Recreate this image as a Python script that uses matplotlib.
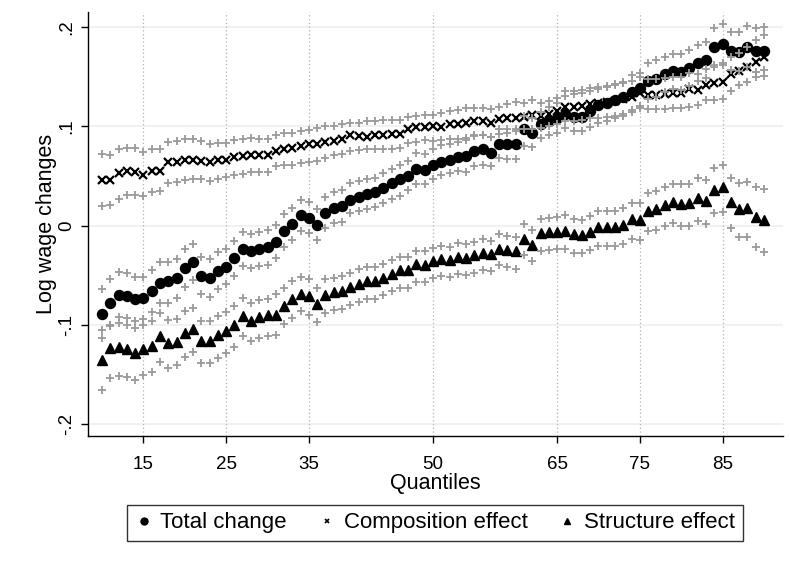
import matplotlib
matplotlib.use("Agg")
import matplotlib.pyplot as plt
from matplotlib.lines import Line2D

plt.rcParams['font.family'] = ['Liberation Sans', 'DejaVu Sans']

quantiles = list(range(10, 91))

total = [
    -0.089, -0.078, -0.070, -0.071, -0.074, -0.073, -0.066, -0.058, -0.056, -0.053,
    -0.043, -0.037, -0.051, -0.053, -0.046, -0.042, -0.033, -0.023, -0.026, -0.023,
    -0.021, -0.016, -0.005, 0.002, 0.011, 0.008, 0.001, 0.013,
    0.018, 0.020, 0.026, 0.029, 0.032, 0.034, 0.038, 0.043, 0.047, 0.050,
    0.057, 0.056, 0.061, 0.064, 0.066, 0.069, 0.070, 0.075, 0.077, 0.073,
    0.082, 0.082, 0.082, 0.097, 0.093, 0.102, 0.105, 0.108,
    0.113, 0.110, 0.110, 0.116, 0.122, 0.124, 0.127, 0.130, 0.135, 0.139,
    0.146, 0.148, 0.153, 0.156, 0.155, 0.159, 0.164, 0.167, 0.180, 0.183,
    0.176, 0.175, 0.180, 0.176, 0.176,
]
total_hi = [
    -0.064, -0.054, -0.047, -0.048, -0.052, -0.052, -0.045, -0.037, -0.037, -0.034,
    -0.023, -0.018, -0.032, -0.034, -0.027, -0.023, -0.015, -0.006, -0.008, -0.006,
    -0.004, 0.001, 0.012, 0.018, 0.026, 0.024, 0.017, 0.029,
    0.034, 0.036, 0.043, 0.045, 0.047, 0.048, 0.053, 0.057, 0.061, 0.065,
    0.073, 0.072, 0.077, 0.081, 0.082, 0.084, 0.086, 0.091, 0.091, 0.089,
    0.097, 0.097, 0.097, 0.111, 0.108, 0.115, 0.120, 0.124,
    0.131, 0.133, 0.134, 0.136, 0.138, 0.140, 0.143, 0.145, 0.152, 0.154,
    0.164, 0.167, 0.170, 0.173, 0.173, 0.177, 0.182, 0.185, 0.199, 0.203,
    0.195, 0.195, 0.201, 0.199, 0.200,
]
total_lo = [
    -0.105, -0.100, -0.092, -0.093, -0.096, -0.094, -0.087, -0.078, -0.078, -0.073,
    -0.062, -0.055, -0.069, -0.072, -0.064, -0.059, -0.051, -0.041, -0.043, -0.041,
    -0.040, -0.033, -0.021, -0.014, -0.005, -0.007, -0.014, -0.002,
    0.003, 0.004, 0.013, 0.015, 0.017, 0.019, 0.023, 0.027, 0.030, 0.036,
    0.042, 0.042, 0.047, 0.051, 0.053, 0.055, 0.054, 0.060, 0.061, 0.060,
    0.068, 0.067, 0.067, 0.080, 0.079, 0.088, 0.091, 0.093,
    0.098, 0.095, 0.095, 0.099, 0.103, 0.105, 0.108, 0.111, 0.117, 0.121,
    0.128, 0.130, 0.135, 0.138, 0.137, 0.141, 0.146, 0.149, 0.162, 0.164,
    0.157, 0.156, 0.160, 0.155, 0.157,
]

composition = [
    0.046, 0.046, 0.053, 0.055, 0.054, 0.051, 0.055, 0.055, 0.064, 0.064,
    0.066, 0.066, 0.065, 0.064, 0.066, 0.066, 0.069, 0.070, 0.071, 0.071,
    0.071, 0.075, 0.077, 0.078, 0.080, 0.082, 0.082, 0.084,
    0.085, 0.087, 0.091, 0.090, 0.089, 0.091, 0.091, 0.092, 0.092, 0.097,
    0.099, 0.099, 0.100, 0.099, 0.102, 0.102, 0.103, 0.105, 0.105, 0.103,
    0.107, 0.108, 0.109, 0.110, 0.112, 0.111, 0.113, 0.116,
    0.120, 0.120, 0.121, 0.123, 0.124, 0.125, 0.126, 0.128, 0.130, 0.134,
    0.132, 0.132, 0.133, 0.134, 0.134, 0.138, 0.137, 0.142, 0.144, 0.145,
    0.153, 0.156, 0.160, 0.165, 0.170,
]
composition_hi = [
    0.072, 0.071, 0.077, 0.078, 0.078, 0.074, 0.077, 0.077, 0.084, 0.085,
    0.087, 0.087, 0.085, 0.082, 0.083, 0.083, 0.086, 0.087, 0.088, 0.087,
    0.087, 0.091, 0.093, 0.093, 0.095, 0.096, 0.098, 0.100,
    0.100, 0.102, 0.103, 0.103, 0.105, 0.105, 0.106, 0.106, 0.106, 0.110,
    0.111, 0.112, 0.112, 0.114, 0.116, 0.117, 0.119, 0.119, 0.119, 0.118,
    0.120, 0.123, 0.125, 0.124, 0.127, 0.124, 0.126, 0.129,
    0.136, 0.136, 0.137, 0.139, 0.140, 0.141, 0.142, 0.144, 0.146, 0.150,
    0.148, 0.148, 0.149, 0.150, 0.150, 0.154, 0.153, 0.158, 0.160, 0.162,
    0.170, 0.174, 0.180, 0.187, 0.192,
]
composition_lo = [
    0.020, 0.021, 0.027, 0.031, 0.031, 0.030, 0.034, 0.035, 0.043, 0.044,
    0.046, 0.047, 0.047, 0.045, 0.047, 0.049, 0.051, 0.052, 0.054, 0.054,
    0.054, 0.060, 0.061, 0.061, 0.063, 0.064, 0.065, 0.068,
    0.071, 0.072, 0.075, 0.076, 0.077, 0.077, 0.077, 0.077, 0.078, 0.083,
    0.084, 0.086, 0.085, 0.086, 0.087, 0.087, 0.088, 0.090, 0.091, 0.089,
    0.092, 0.093, 0.095, 0.097, 0.097, 0.098, 0.100, 0.102,
    0.105, 0.105, 0.106, 0.108, 0.109, 0.110, 0.111, 0.113, 0.115, 0.119,
    0.118, 0.118, 0.118, 0.119, 0.119, 0.120, 0.122, 0.127, 0.127, 0.128,
    0.136, 0.142, 0.145, 0.150, 0.151,
]

structure = [
    -0.135, -0.123, -0.122, -0.124, -0.128, -0.124, -0.121, -0.111, -0.118, -0.117,
    -0.108, -0.104, -0.116, -0.116, -0.110, -0.106, -0.100, -0.091, -0.096, -0.092,
    -0.090, -0.090, -0.081, -0.074, -0.069, -0.071, -0.079, -0.070,
    -0.067, -0.066, -0.062, -0.059, -0.056, -0.056, -0.053, -0.049, -0.045, -0.045,
    -0.039, -0.040, -0.036, -0.034, -0.035, -0.032, -0.033, -0.030, -0.028, -0.029,
    -0.023, -0.024, -0.026, -0.013, -0.019, -0.007, -0.006, -0.006,
    -0.005, -0.008, -0.009, -0.006, -0.001, -0.001, -0.001, 0.001, 0.007, 0.006,
    0.015, 0.017, 0.021, 0.024, 0.022, 0.023, 0.028, 0.025, 0.036, 0.039,
    0.024, 0.017, 0.018, 0.009, 0.006,
]
structure_hi = [
    -0.113, -0.101, -0.098, -0.100, -0.103, -0.100, -0.096, -0.088, -0.095, -0.094,
    -0.086, -0.083, -0.096, -0.096, -0.091, -0.087, -0.081, -0.073, -0.078, -0.075,
    -0.074, -0.069, -0.063, -0.056, -0.052, -0.054, -0.063, -0.054,
    -0.053, -0.051, -0.048, -0.044, -0.042, -0.042, -0.039, -0.035, -0.032, -0.032,
    -0.025, -0.025, -0.022, -0.020, -0.021, -0.017, -0.018, -0.016, -0.013, -0.015,
    -0.008, -0.010, -0.011, 0.002, -0.004, 0.007, 0.008, 0.009,
    0.011, 0.007, 0.006, 0.010, 0.015, 0.015, 0.015, 0.018, 0.023, 0.023,
    0.033, 0.035, 0.039, 0.042, 0.042, 0.042, 0.048, 0.046, 0.058, 0.061,
    0.048, 0.043, 0.044, 0.039, 0.037,
]
structure_lo = [
    -0.166, -0.153, -0.151, -0.152, -0.155, -0.150, -0.147, -0.137, -0.143, -0.140,
    -0.132, -0.127, -0.138, -0.138, -0.133, -0.128, -0.122, -0.111, -0.116, -0.113,
    -0.111, -0.110, -0.099, -0.093, -0.086, -0.090, -0.097, -0.088,
    -0.085, -0.084, -0.080, -0.077, -0.074, -0.074, -0.070, -0.066, -0.063, -0.063,
    -0.057, -0.057, -0.053, -0.051, -0.052, -0.049, -0.050, -0.048, -0.045, -0.046,
    -0.040, -0.042, -0.044, -0.030, -0.036, -0.025, -0.024, -0.023,
    -0.023, -0.028, -0.028, -0.024, -0.020, -0.020, -0.020, -0.018, -0.013, -0.014,
    -0.005, -0.004, 0.000, 0.003, 0.000, 0.000, 0.005, 0.002, 0.013, 0.014,
    -0.002, -0.011, -0.011, -0.021, -0.027,
]

x_ticks = [15, 25, 35, 50, 65, 75, 85]
y_ticks = [-0.2, -0.1, 0.0, 0.1, 0.2]
y_tick_labels = ['-.2', '-.1', '0', '.1', '.2']

series = [
    ('Total change', total, total_lo, total_hi, dict(marker='o', ms=7.2, mec='black', mfc='black')),
    ('Composition effect', composition, composition_lo, composition_hi, dict(marker='x', ms=5.2, mew=1.6, color='black')),
    ('Structure effect', structure, structure_lo, structure_hi, dict(marker='^', ms=7.2, mec='black', mfc='black')),
]
ci_style = dict(marker='+', ms=6, mew=1.3, color='#9a9a9a', linestyle='none')

fig = plt.figure(figsize=(7.9, 5.62), dpi=100)
ax = fig.add_axes([0.1114, 0.224, 0.8797, 0.755])

# light horizontal grid at the y ticks, dotted verticals at the x ticks
for y in y_ticks:
    ax.axhline(y, color='#eaf0f1', lw=1.2, zorder=0)
for x in x_ticks:
    ax.axvline(x, color='#b4b4b4', lw=0.9, ls=(0, (1, 2)), zorder=0)

for name, mid, lo, hi, style in series:
    ax.plot(quantiles, mid, linestyle='none', zorder=3, **style)
    ax.plot(quantiles, hi, zorder=4, **ci_style)
    ax.plot(quantiles, lo, zorder=4, **ci_style)

ax.set_xlim(8.3, 92.3)
ax.set_ylim(-0.212, 0.2155)
ax.set_xticks(x_ticks)
ax.set_xticklabels([str(t) for t in x_ticks], fontsize=13.5)
ax.set_yticks(y_ticks)
ax.set_yticklabels(y_tick_labels, fontsize=13.5, rotation=90, va='center')
ax.tick_params(axis='both', direction='out', length=5, width=1, color='black')
ax.tick_params(axis='x', pad=9)
ax.tick_params(axis='y', pad=4)
for side in ('top', 'right'):
    ax.spines[side].set_visible(False)
for side in ('left', 'bottom'):
    ax.spines[side].set_linewidth(1)
    ax.spines[side].set_color('black')

ax.set_xlabel('Quantiles', fontsize=15.5, labelpad=0)
ax.set_ylabel('Log wage changes', fontsize=15.5, labelpad=1)

handles = [
    Line2D([], [], linestyle='none', marker='o', ms=5, color='black'),
    Line2D([], [], linestyle='none', marker='x', ms=3.5, mew=1.2, color='black'),
    Line2D([], [], linestyle='none', marker='^', ms=5, color='black'),
]
leg = fig.legend(handles, [s[0] for s in series], loc='center', ncol=3,
                 bbox_to_anchor=(0.5506, 0.0694), fontsize=16, frameon=True,
                 fancybox=False, edgecolor='black', handlelength=0.8,
                 handletextpad=0.35, columnspacing=1.4, borderpad=0.35)
leg.get_frame().set_linewidth(1)

fig.savefig('out.png', dpi=100)
